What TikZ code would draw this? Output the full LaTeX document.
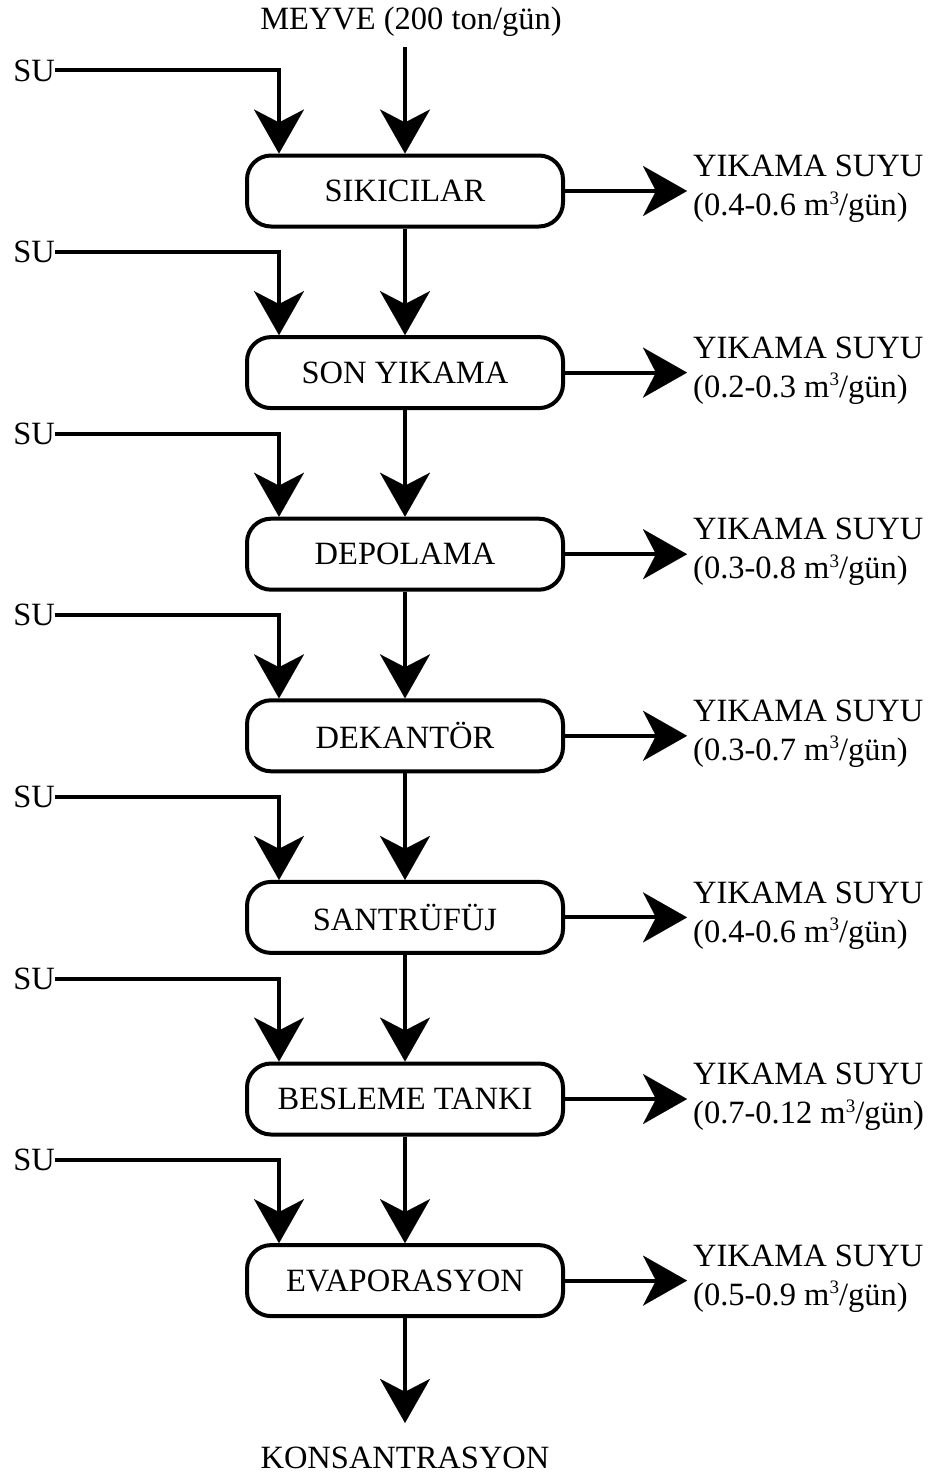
\documentclass[tikz,border=0pt]{standalone}
\usepackage{fontspec}
\setmainfont{Liberation Serif}
\usetikzlibrary{arrows.meta,positioning,calc}
\newcommand{\cubesup}{\raisebox{0.36em}{\fontsize{19}{19}\selectfont 3}}
\tikzset{
  procbox/.style={draw, line width=4pt, rounded corners=24pt, minimum width=316pt, minimum height=71pt, inner sep=0pt, font=\fontsize{32.5}{39}\selectfont},
  txt/.style={inner sep=0pt, font=\fontsize{32.5}{39}\selectfont},
  flow/.style={line width=4pt, -{Stealth[length=44pt,width=50pt,inset=13pt,line width=0.01pt]}},
}
\begin{document}
\begin{tikzpicture}[x=1pt,y=-1pt]
\useasboundingbox (0,0) rectangle (932,1477);
% process boxes
\node[procbox] (b1) at (405,191) {SIKICILAR};
\node[procbox] (b2) at (405,372.6) {SON YIKAMA};
\node[procbox] (b3) at (405,554.2) {DEPOLAMA};
\node[procbox] (b4) at (405,735.8) {DEKANTÖR};
\node[procbox] (b5) at (405,917.4) {SANTRÜFÜJ};
\node[procbox] (b6) at (405,1099) {BESLEME TANKI};
\node[procbox] (b7) at (405,1280.6) {EVAPORASYON};
% top and bottom texts
\node[txt] (m) at (411,22) {MEYVE (200 ton/gün)};
\node[txt] (k) at (405,1458) {KONSANTRASYON};
\draw[flow, shorten <=10pt] (b1.north |- m.south) -- (b1.north);
\draw[flow, shorten >=24pt] (b7.south) -- (k.north);
% main chain
\draw[flow] (b1.south) -- (b2.north);
\draw[flow] (b2.south) -- (b3.north);
\draw[flow] (b3.south) -- (b4.north);
\draw[flow] (b4.south) -- (b5.north);
\draw[flow] (b5.south) -- (b6.north);
\draw[flow] (b6.south) -- (b7.north);
% water inputs and outputs
\foreach \i/\a/\b in {1/0.4/0.6, 2/0.2/0.3, 3/0.3/0.8, 4/0.3/0.7, 5/0.4/0.6, 6/0.7/0.12, 7/0.5/0.9}{
  \node[txt, anchor=east] (s\i) at ($(b\i.north)+(-350,-83)$) {SU};
  \draw[flow] (s\i.east) -| ([xshift=-126pt]b\i.north);
  \node[txt, anchor=west, align=left] (w\i) at ($(b\i.center)+(288,-2)$) {YIKAMA SUYU\\(\a-\b{} m\cubesup/gün)};
  \draw[flow, shorten >=6pt] (b\i.east) -- (b\i.east -| w\i.west);
}
\end{tikzpicture}
\end{document}
